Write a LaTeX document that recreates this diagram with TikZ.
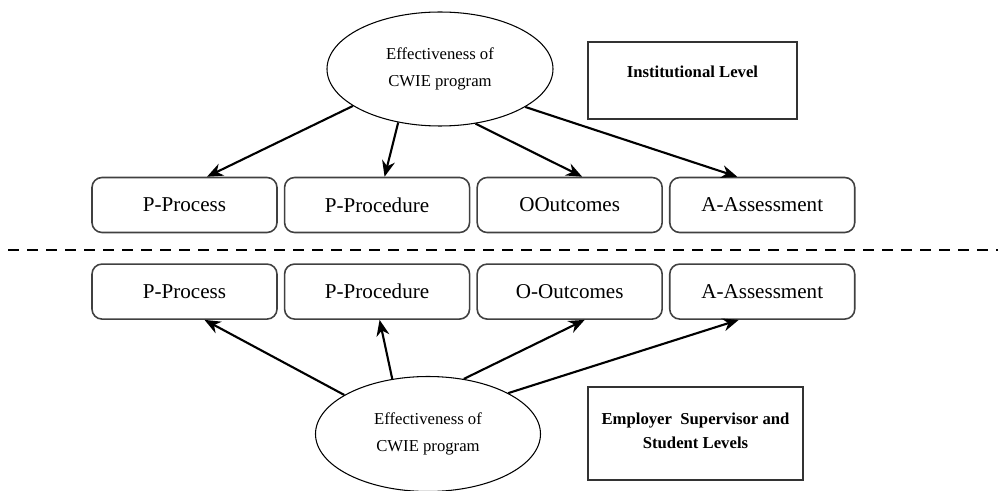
\documentclass[tikz,border=0pt]{standalone}
\usepackage{fontspec}
\setmainfont{Liberation Serif}
\usetikzlibrary{shapes.geometric, positioning, arrows.meta}

\begin{document}
\begin{tikzpicture}[node distance=0.12cm, >={Stealth[length=3.2mm,width=2.6mm]},
  stage/.style={draw=black!75, line width=0.9pt, rounded corners=0.2cm, minimum width=3.7cm, minimum height=1.1cm, font=\fontsize{12}{14}\selectfont},
  goal/.style={ellipse, draw, line width=0.6pt, minimum width=4.52cm, minimum height=2.28cm, inner sep=0pt, align=center, font=\fontsize{9.5}{15.5}\selectfont},
  level/.style={draw=black!80, line width=0.9pt, align=center, font=\bfseries\fontsize{9.5}{13.6}\selectfont},
  link/.style={->, line width=1.2pt}]
\useasboundingbox (0,0) rectangle (19.96,-9.82);

% institutional level
\node[goal] (e0) at (8.8,-1.38) {Effectiveness of\\CWIE program};
\node[level, minimum width=4.18cm, minimum height=1.54cm, text height=0.3cm, text depth=0.4cm] (lvl0) at (13.85,-1.61) {Institutional Level};

\node[stage] (t1) at (3.69,-4.1) {P-Process};
\node[stage] (t2) [right=of t1] {P-Procedure};
\node[stage] (t3) [right=of t2] {OOutcomes};
\node[stage] (t4) [right=of t3] {A-Assessment};

\draw[dash pattern=on 0.22cm off 0.16cm, line width=1.6pt] (0.16,-5.0) -- (19.96,-5.0);

% employer supervisor and student levels
\node[stage] (b1) [below=0.6cm of t1] {P-Process};
\node[stage] (b2) [right=of b1] {P-Procedure};
\node[stage] (b3) [right=of b2] {O-Outcomes};
\node[stage] (b4) [right=of b3] {A-Assessment};

\node[goal, minimum width=4.5cm, minimum height=2.3cm] (e1) at (8.56,-8.68) {Effectiveness of\\CWIE program};
\node[level, minimum width=4.3cm, minimum height=1.86cm, text depth=0.12cm] (lvl1) at (13.91,-8.67) {Employer\ \ Supervisor and\\Student Levels};

\draw[link] (e0.203) -- ([xshift=0.45cm]t1.north);
\draw[link] (e0.232) -- ([xshift=0.15cm]t2.north);
\draw[link] (e0.303) -- ([xshift=0.25cm]t3.north);
\draw[link] (e0.336) -- ([xshift=-0.5cm]t4.north);

\draw[link] (e1.155) -- ([xshift=0.4cm]b1.south);
\draw[link] (e1.123) -- ([xshift=0.05cm]b2.south);
\draw[link] (e1.57) -- ([xshift=0.3cm]b3.south);
\draw[link] (e1.27) -- ([xshift=-0.47cm]b4.south);
\end{tikzpicture}
\end{document}
